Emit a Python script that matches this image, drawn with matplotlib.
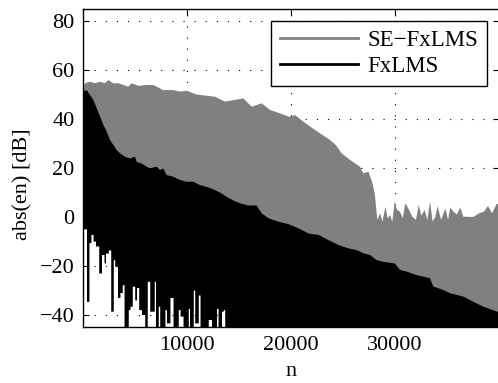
import numpy as np
import matplotlib.pyplot as plt
from matplotlib.lines import Line2D

plt.rcParams['font.family'] = ['Liberation Serif', 'DejaVu Serif']
plt.rcParams['font.size'] = 16

# upper envelope of |e(n)| for SE-FxLMS (grey)
se_n = [0, 190, 670, 1150, 1630, 2100, 2430, 2900, 3400, 3880, 4360, 4680, 5320,
        6120, 6760, 7720, 8690, 9330, 9970, 10930, 11890, 12690, 13650, 14610,
        15420, 16220, 17180, 17980, 18940, 19810, 20390, 21190, 22310, 23270,
        23750, 24300, 24870, 25670, 26150, 26640, 26960, 27440, 27790, 28050,
        28300, 28560, 28810, 29070, 29290, 29520, 29740, 29970, 30190, 30480,
        30740, 30990, 31280, 31670, 32020, 32280, 32530, 32850, 33110, 33370,
        33620, 33880, 34100, 34420, 34840, 35100, 35320, 35610, 35960, 36280,
        36570, 36960, 37530, 38080, 38560, 38940, 39330, 39780, 40000]
se_db = [52, 54.6, 55.2, 54.6, 55.2, 54.6, 55.9, 54.6, 54.6, 53.9, 53.2, 54.6, 53.5,
         53.9, 53.9, 51.8, 51.8, 51.2, 51.5, 50.0, 49.5, 49.1, 47.1, 47.8,
         48.4, 45.0, 46.4, 43.7, 42.3, 40.9, 41.6, 38.9, 35.5, 32.8,
         31.4, 29.4, 26.0, 23.3, 21.9, 20.5, 17.8, 18.5, 14.4, 9.7,
         -1.2, 1.5, -1.9, 4.2, -0.5, 0.8, -1.9, 6.3, 2.9, 2.2,
         -0.5, 5.6, 3.5, 0.1, -1.2, 4.9, 0.5, 2.9, -1.2, 6.3,
         -1.9, 0.1, 4.5, -1.2, 3.5, -1.2, 3.9, 2.2, 1.0, 3.9,
         0.1, 0.1, 0.0, 1.5, 2.2, 4.5, 1.5, 5.3, 5.3]

# upper envelope for FxLMS (black)
fx_n = [0, 32, 353, 673, 994, 1314, 1635, 1955, 2276, 2596, 2917, 3237, 3558,
        4038, 4519, 5000, 5160, 5641, 6121, 6442, 7083, 7404, 7724, 8045, 8686,
        9327, 9968, 10609, 11250, 11891, 12532, 13173, 13975, 14615, 15256,
        15897, 16699, 17180, 17821, 18782, 19744, 20705, 21667, 22628, 23590,
        24551, 25513, 26314, 26955, 27596, 28237, 28878, 30000, 30481, 31122,
        32083, 33365, 33686, 34647, 35288, 36570, 37532, 38493, 39776, 40000]
fx_db = [51.2, 51.2, 51.8, 49.8, 47.8, 44.4, 41.0, 37.6, 34.9, 31.4, 29.4, 27.3, 26.0,
         24.6, 23.9, 24.6, 22.5, 21.8, 20.5, 19.9, 20.5, 19.2, 19.8, 17.1, 16.4,
         15.1, 14.4, 14.4, 13.0, 12.3, 11.3, 10.0, 7.8, 6.4, 5.4,
         4.7, 4.7, 1.5, -0.5, -1.9, -2.9, -4.6, -6.7, -7.3, -9.4,
         -11.4, -12.8, -13.5, -14.8, -15.5, -17.6, -18.3, -19.0, -21.6, -22.3,
         -23.7, -25.0, -28.4, -29.8, -31.1, -32.5, -34.6, -36.6, -38.6, -38.6]

# lower edge of the black band (deep notches near the start)
low_n = [0, 64, 385, 609, 801, 1026, 1250, 1570, 1827, 2083, 2211, 2468, 2724,
         2949, 3109, 3365, 3590, 3814, 4006, 4391, 4551, 4775, 5032, 5192, 5416,
         5673, 5993, 6217, 6474, 6890, 7019, 7275, 7435, 7916, 8076, 8397, 8717,
         9198, 9390, 9679, 10160, 10288, 10640, 10801, 11121, 11313, 12082,
         12403, 12884, 13044, 13365, 13525, 13685]
low_db = [-45, -5, -34.6, -10.6, -7.3, -10, -12, -23, -15.5, -18.9, -14.9, -13.6, -38.6,
          -17.6, -20.3, -33, -31, -27.8, -45, -38, -36.6, -28.4, -34, -29, -38,
          -40, -45, -26.4, -38.6, -26.4, -45, -36.6, -45, -38, -43.4, -33, -45,
          -38, -40.6, -45, -37.5, -45, -30, -43.4, -32, -45, -42,
          -45, -37.5, -45, -38.6, -38, -45]

xticks = [10000, 20000, 30000]
yticks = [-40, -20, 0, 20, 40, 60, 80]


def band(top_n, top_v, bot_n, bot_v, n_end):
    # polygon: top edge left to right, stepped bottom edge back right to left
    bx = np.append(np.repeat(bot_n, 2)[1:], n_end)
    by = np.repeat(bot_v, 2)
    x = np.concatenate([top_n, bx[::-1]])
    y = np.concatenate([top_v, by[::-1]])
    return x, y


fig = plt.figure(figsize=(4.98, 3.83), dpi=100)
ax = fig.add_axes([83/498, (383-327.25)/383, 416/498, 318.5/383])

gx, gy = band(se_n, se_db, low_n, low_db, 40000)
ax.fill(gx, gy, color='#808080', lw=0, zorder=2)
bx, by = band(fx_n, fx_db, low_n, low_db, 40000)
ax.fill(bx, by, color='black', lw=0, zorder=3)

ax.set_xlim(0, 40000)
ax.set_ylim(-45, 85)
ax.set_xticks(xticks)
ax.set_yticks(yticks)
ax.set_axisbelow(True)
ax.grid(True, color='black', linewidth=0.8, linestyle=(0, (1, 9)))
ax.tick_params(direction='in', top=True, right=True, length=4, width=0.8, pad=6)
for s in ax.spines.values():
    s.set_linewidth(1.0)

ax.set_xlabel('n', labelpad=5)
ax.set_ylabel('abs(en) [dB]', labelpad=5)
ax.yaxis.label.set_y(0.45)

handles = [Line2D([], [], color='#808080', lw=2),
           Line2D([], [], color='black', lw=2)]
leg = ax.legend(handles, ['SE\u2212FxLMS', 'FxLMS'], loc='upper right',
                bbox_to_anchor=(1 - 12/416, 1 - 12/318.5), borderaxespad=0,
                fancybox=False, framealpha=1, edgecolor='black',
                handlelength=3.4, handletextpad=0.4, labelspacing=0.2,
                borderpad=0.4, prop={'size': 16.5})
leg.get_frame().set_linewidth(1.0)

fig.savefig('out.png', dpi=100)
